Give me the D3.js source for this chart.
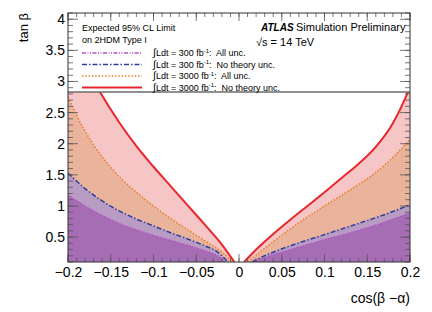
<!DOCTYPE html>
<html>
<head>
<meta charset="utf-8">
<script src="https://cdn.jsdelivr.net/npm/d3@7"></script>
<style>
  body { margin: 0; background: #fff; }
  text { font-family: "Liberation Sans", Arial, sans-serif; }
</style>
</head>
<body>
<div id="container"></div>
<script>
let w = 432;
let h = 312;
let margin = { top: 13, right: 22, bottom: 50, left: 68 };
let iw = w - margin.left - margin.right;
let ih = h - margin.top - margin.bottom;

// cos(b-a) and tan(b) points of each contour, left and right branch
let redLeftX = [-0.2, -0.1626, -0.14, -0.12, -0.1, -0.08, -0.06, -0.04, -0.02, -0.0055];
let redLeftY = [3.80, 2.83, 2.34, 1.96, 1.63, 1.32, 1.01, 0.70, 0.38, 0.1];
let redRightX = [0.006, 0.02, 0.04, 0.06, 0.08, 0.1, 0.12, 0.14, 0.16, 0.18, 0.195, 0.2];
let redRightY = [0.1, 0.30, 0.55, 0.78, 1.00, 1.22, 1.45, 1.68, 1.95, 2.33, 2.75, 2.92];

let orangeLeftX = [-0.2, -0.18, -0.16, -0.14, -0.12, -0.1, -0.08, -0.06, -0.04, -0.02, -0.0075];
let orangeLeftY = [2.75, 2.20, 1.79, 1.47, 1.22, 1.00, 0.80, 0.62, 0.44, 0.26, 0.1];
let orangeRightX = [0.0105, 0.03, 0.05, 0.07, 0.1, 0.13, 0.16, 0.18, 0.2];
let orangeRightY = [0.1, 0.32, 0.53, 0.73, 1.00, 1.26, 1.54, 1.78, 2.07];

let blueLeftX = [-0.2, -0.18, -0.16, -0.14, -0.12, -0.1, -0.08, -0.06, -0.04, -0.025, -0.013];
let blueLeftY = [1.53, 1.28, 1.08, 0.92, 0.79, 0.68, 0.57, 0.47, 0.36, 0.26, 0.1];
let blueRightX = [0.0152, 0.03, 0.06, 0.1, 0.14, 0.17, 0.2];
let blueRightY = [0.1, 0.20, 0.36, 0.54, 0.72, 0.86, 1.02];

let purpleLeftX = [-0.2, -0.18, -0.16, -0.14, -0.12, -0.1, -0.08, -0.06, -0.04, -0.025, -0.0152];
let purpleLeftY = [1.18, 1.00, 0.85, 0.72, 0.62, 0.53, 0.45, 0.37, 0.28, 0.20, 0.1];
let purpleRightX = [0.0175, 0.03, 0.06, 0.1, 0.14, 0.17, 0.2];
let purpleRightY = [0.1, 0.17, 0.30, 0.46, 0.61, 0.74, 0.89];

let xTicks = [-0.2, -0.15, -0.1, -0.05, 0, 0.05, 0.1, 0.15, 0.2];
let xTickLabels = ['\u22120.2', '\u22120.15', '\u22120.1', '\u22120.05', '0', '0.05', '0.1', '0.15', '0.2'];
let yTicks = [0.5, 1, 1.5, 2, 2.5, 3, 3.5, 4];
let yTickLabels = ['0.5', '1', '1.5', '2', '2.5', '3', '3.5', '4'];

let legendLabels = ['300', '300', '3000', '3000'];
let legendNotes = ['All unc.', 'No theory unc.', 'All unc.', 'No theory unc.'];

let yMin = 0.1;
let yMax = 4.1;
let boxFloor = 2.83; // tan(b) where the white legend box ends

//contour styles, drawn bottom to top
let contours = [
  { lx: redLeftX, ly: redLeftY, rx: redRightX, ry: redRightY, fill: '#f6c6c6', stroke: '#e8262b', width: 2, dash: null },
  { lx: orangeLeftX, ly: orangeLeftY, rx: orangeRightX, ry: orangeRightY, fill: '#eab39c', stroke: '#e8822a', width: 1.6, dash: '1.5,1.8' },
  { lx: blueLeftX, ly: blueLeftY, rx: blueRightX, ry: blueRightY, fill: '#b99cc4', stroke: '#2c3e9e', width: 1.5, dash: '5,2,1.5,2' },
  { lx: purpleLeftX, ly: purpleLeftY, rx: purpleRightX, ry: purpleRightY, fill: '#a66db5', stroke: '#b550c4', width: 1.3, dash: '1.5,1.5' }
];
let legendOrder = [3, 2, 1, 0];
let legendDash = ['4,1.5,1,1.5,1,1.5', '5,2,1.5,2', '1.5,1.8', null];

let x = d3.scaleLinear().domain([-0.2, 0.2]).range([0, iw]);
let y = d3.scaleLinear().domain([yMin, yMax]).range([ih, 0]);

//create svg
let svg = d3.select('#container')
  .append('svg')
    .attr('width', w)
    .attr('height', h)
  ;

let viz = svg.append('g')
  .attr('transform', 'translate(' + margin.left + ',' + margin.top + ')')
  ;

viz.append('clipPath')
  .attr('id', 'plotclip')
  .append('rect')
    .attr('width', iw)
    .attr('height', ih)
  ;

let plot = viz.append('g').attr('clip-path', 'url(#plotclip)');

function toPoints(xs, ys){
  return xs.map(function(d, i){ return [d, ys[i]]; });
}

let area = d3.area()
  .x(function(d){ return x(d[0]); })
  .y0(y(yMin))
  .y1(function(d){ return y(d[1]); })
  .curve(d3.curveMonotoneX)
  ;

let line = d3.line()
  .x(function(d){ return x(d[0]); })
  .y(function(d){ return y(d[1]); })
  .curve(d3.curveMonotoneX)
  ;

//fills first, then lines on top
contours.forEach(function(c){
  [toPoints(c.lx, c.ly), toPoints(c.rx, c.ry)].forEach(function(pts){
    plot.append('path')
      .attr('d', area(pts))
      .attr('fill', c.fill)
    ;
  });
});

contours.forEach(function(c){
  [toPoints(c.lx, c.ly), toPoints(c.rx, c.ry)].forEach(function(pts){
    plot.append('path')
      .attr('d', line(pts))
      .attr('fill', 'none')
      .attr('stroke', c.stroke)
      .attr('stroke-width', c.width)
      .attr('stroke-dasharray', c.dash)
    ;
  });
});

//white legend box across the top of the frame
plot.append('rect')
  .attr('x', 0)
  .attr('y', 0)
  .attr('width', iw)
  .attr('height', y(boxFloor))
  .attr('fill', '#fff')
  ;
plot.append('line')
  .attr('x1', 0)
  .attr('x2', iw)
  .attr('y1', y(boxFloor))
  .attr('y2', y(boxFloor))
  .attr('stroke', '#6b6b6b')
  .attr('stroke-width', 1.5)
  ;

//ticks on all four sides
let tickColor = '#555';
let xMinor = d3.range(-0.2, 0.2001, 0.01);
let yMinorT = d3.range(0.1, 4.1001, 0.1);

function tickMarks(vals, len, isX){
  vals.forEach(function(v){
    if (isX) {
      let px = x(v);
      viz.append('line').attr('x1', px).attr('x2', px).attr('y1', ih).attr('y2', ih - len)
        .attr('stroke', tickColor).attr('stroke-width', 0.8);
      viz.append('line').attr('x1', px).attr('x2', px).attr('y1', 0).attr('y2', len)
        .attr('stroke', tickColor).attr('stroke-width', 0.8);
    } else {
      let py = y(v);
      viz.append('line').attr('x1', 0).attr('x2', len).attr('y1', py).attr('y2', py)
        .attr('stroke', tickColor).attr('stroke-width', 0.8);
      viz.append('line').attr('x1', iw).attr('x2', iw - len).attr('y1', py).attr('y2', py)
        .attr('stroke', tickColor).attr('stroke-width', 0.8);
    }
  });
}
tickMarks(xMinor, 4, true);
tickMarks(xTicks, 8, true);
tickMarks(yMinorT, 5, false);
tickMarks(yTicks, 10, false);

//frame
viz.append('rect')
  .attr('width', iw)
  .attr('height', ih)
  .attr('fill', 'none')
  .attr('stroke', '#333')
  .attr('stroke-width', 1)
  ;

//tick labels through the scales
let xAxis = d3.axisBottom(x).tickValues(xTicks).tickSize(0).tickPadding(5)
  .tickFormat(function(d, i){ return xTickLabels[i]; });
let yAxis = d3.axisLeft(y).tickValues(yTicks).tickSize(0).tickPadding(3)
  .tickFormat(function(d, i){ return yTickLabels[i]; });

let gx = viz.append('g').attr('transform', 'translate(0,' + ih + ')').call(xAxis);
let gy = viz.append('g').call(yAxis);
[gx, gy].forEach(function(g){
  g.select('.domain').remove();
  g.selectAll('text').style('font-family', '"Liberation Sans", Arial, sans-serif')
    .style('font-size', '14px').attr('fill', '#000');
});

//axis titles
svg.append('text')
  .attr('x', margin.left + iw)
  .attr('y', 303)
  .attr('text-anchor', 'end')
  .style('font-size', '14px')
  .text('cos(\u03b2 \u2212\u03b1)')
  ;
svg.append('text')
  .attr('transform', 'translate(28,13) rotate(-90)')
  .attr('text-anchor', 'end')
  .style('font-size', '13px')
  .text('tan \u03b2')
  ;

//legend
let lx0 = margin.left + 14;
let legend = svg.append('g');
legend.append('text').attr('x', lx0).attr('y', 31).style('font-size', '9px').text('Expected 95% CL Limit');
legend.append('text').attr('x', lx0).attr('y', 42.5).style('font-size', '9px').text('on 2HDM Type I');

legendOrder.forEach(function(ci, k){
  let c = contours[ci];
  let ly = 53 + k * 11.5;
  legend.append('line')
    .attr('x1', lx0).attr('x2', lx0 + 60)
    .attr('y1', ly).attr('y2', ly)
    .attr('stroke', c.stroke)
    .attr('stroke-width', c.width)
    .attr('stroke-dasharray', legendDash[k])
  ;
  let t = legend.append('text').attr('x', lx0 + 71).attr('y', ly + 3.3)
    .style('font-size', '9px').style('white-space', 'pre');
  t.append('tspan').style('font-size', '10.5px').text('\u222b');
  t.append('tspan').text('Ldt = ' + legendLabels[k] + ' fb');
  t.append('tspan').attr('dy', -3.5).style('font-size', '6px').text('-1');
  t.append('tspan').attr('dy', 3.5).text(':  ' + legendNotes[k]);
});

//experiment label
svg.append('text').attr('x', 261).attr('y', 31)
  .style('font-size', '10px').style('font-weight', 'bold').style('font-style', 'italic')
  .text('ATLAS');
svg.append('text').attr('x', 296).attr('y', 31).style('font-size', '11px')
  .text('Simulation Preliminary');
svg.append('text').attr('x', 256).attr('y', 46).style('font-size', '11px')
  .text('\u221as = 14 TeV');
</script>
</body>
</html>
